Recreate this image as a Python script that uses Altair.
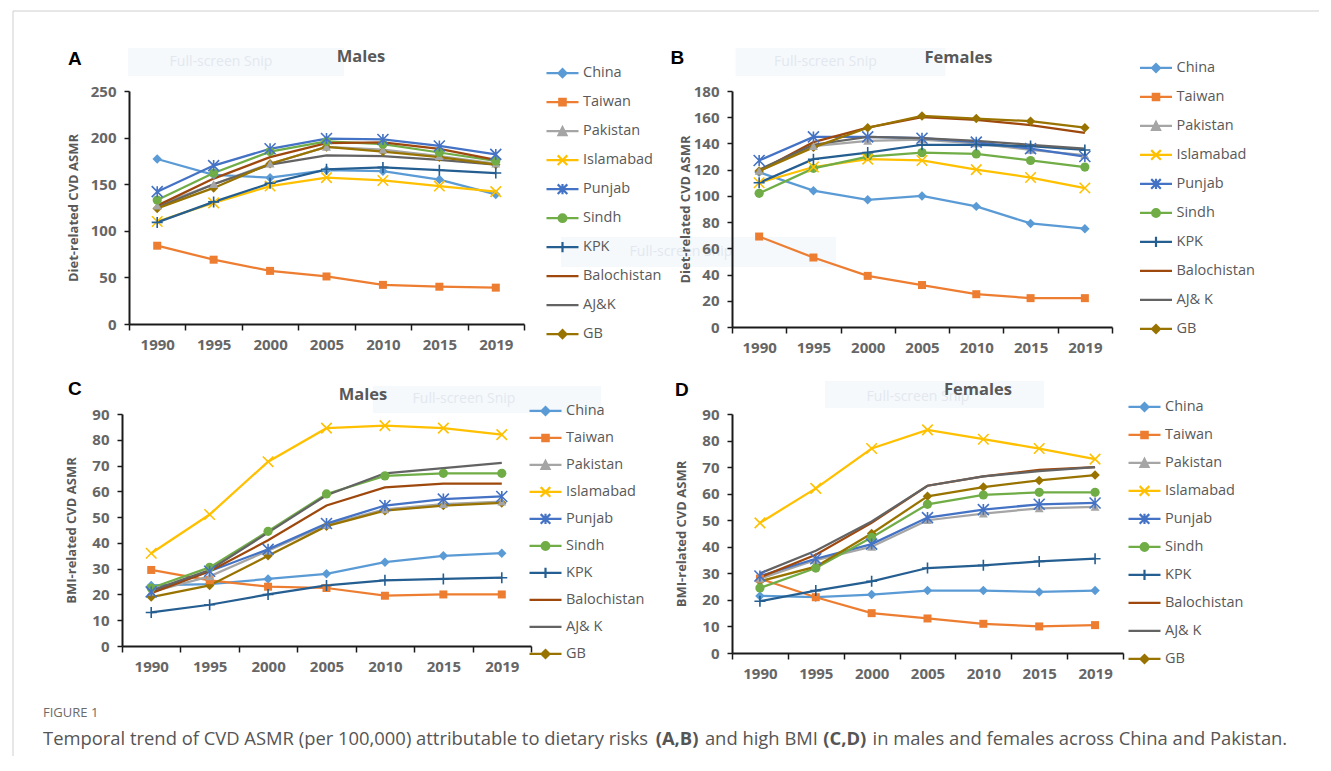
import altair as alt
import pandas as pd

years = ["1990", "1995", "2000", "2005", "2010", "2015", "2019"]
series = ["China", "Taiwan", "Pakistan", "Islamabad", "Punjab", "Sindh", "KPK",
          "Balochistan", "AJ&K", "GB"]
colors = ["#5B9BD5", "#ED7D31", "#A5A5A5", "#FFC000", "#4472C4", "#70AD47",
          "#255E91", "#9E480E", "#636363", "#997300"]

males_diet = {
    "China":       [177, 160, 157, 165, 164, 155, 139],
    "Taiwan":      [84, 69, 57, 51, 42, 40, 39],
    "Pakistan":    [127, 150, 172, 190, 187, 180, 172],
    "Islamabad":   [110, 130, 148, 157, 154, 148, 142],
    "Punjab":      [142, 170, 188, 199, 198, 191, 182],
    "Sindh":       [133, 162, 185, 196, 193, 184, 175],
    "KPK":         [109, 131, 151, 166, 168, 165, 162],
    "Balochistan": [127, 156, 179, 194, 195, 188, 176],
    "AJ&K":        [125, 150, 171, 181, 180, 176, 171],
    "GB":          [124, 146, 172, 190, 185, 179, 171],
}
females_diet = {
    "China":       [118, 104, 97, 100, 92, 79, 75],
    "Taiwan":      [69, 53, 39, 32, 25, 22, 22],
    "Pakistan":    [119, 138, 142, 143, 140, 135, 131],
    "Islamabad":   [110, 122, 128, 127, 120, 114, 106],
    "Punjab":      [127, 145, 145, 144, 141, 136, 130],
    "Sindh":       [102, 121, 130, 133, 132, 127, 122],
    "KPK":         [110, 128, 133, 139, 139, 138, 135],
    "Balochistan": [119, 141, 152, 160, 158, 154, 148],
    "AJ&K":        [120, 139, 145, 144, 142, 139, 136],
    "GB":          [119, 137, 152, 161, 159, 157, 152],
}
males_bmi = {
    "China":       [23.5, 24, 26, 28, 32.5, 35, 36],
    "Taiwan":      [29.5, 25.5, 23, 22.5, 19.5, 20, 20],
    "Pakistan":    [21, 27, 37, 47, 53, 55, 56],
    "Islamabad":   [36, 51, 71.5, 84.5, 85.5, 84.5, 82],
    "Punjab":      [21, 29, 37.5, 47.5, 54.5, 57, 58],
    "Sindh":       [22.5, 30.5, 44.5, 59, 66, 67, 67],
    "KPK":         [13, 16, 20, 23.5, 25.5, 26, 26.5],
    "Balochistan": [20.5, 29, 41, 54.5, 61.5, 63, 63],
    "AJ&K":        [21.5, 29.5, 44, 58.5, 67, 69, 71],
    "GB":          [19, 23.5, 35, 46.5, 52.5, 54.5, 55.5],
}
females_bmi = {
    "China":       [21.5, 21, 22, 23.5, 23.5, 23, 23.5],
    "Taiwan":      [28, 21, 15, 13, 11, 10, 10.5],
    "Pakistan":    [28, 35, 40, 50, 52.5, 54.5, 55],
    "Islamabad":   [49, 62, 77, 84, 80.5, 77, 73],
    "Punjab":      [29, 35.5, 41, 51, 54, 56, 56.5],
    "Sindh":       [24.5, 32, 43.5, 56, 59.5, 60.5, 60.5],
    "KPK":         [19.5, 23.5, 27, 32, 33, 34.5, 35.5],
    "Balochistan": [28.5, 37, 49, 63, 66.5, 69, 70],
    "AJ&K":        [30, 38.5, 49.5, 63, 66.5, 68.5, 70],
    "GB":          [27, 32.5, 45, 59, 62.5, 65, 67],
}

caption_label = "FIGURE 1"
caption_parts = [
    ("Temporal trend of CVD ASMR (per 100,000) attributable to dietary risks", "normal", -79),
    ("(A,B)", "bold", 533.7),
    ("and high BMI", "normal", 582.9),
    ("(C,D)", "bold", 701.3),
    ("in males and females across China and Pakistan.", "normal", 750.5),
]
snip_text = "Full-screen Snip"

FONT = "Open Sans"
GRAY = "#595959"


def long_df(d):
    rows = []
    for s in series:
        for y, v in zip(years, d[s]):
            rows.append({"Year": y, "Series": s, "Value": v})
    return pd.DataFrame(rows)


X_PATH = "M-1,-1L1,1M-1,1L1,-1"
AST_PATH = "M-1,-1L1,1M-1,1L1,-1M0,-1L0,1"
PLUS_PATH = "M-1,0L1,0M0,-1L0,1"


def diamond(h):
    return f"M0,{-h}L{h},0L0,{h}L{-h},0Z"


def square(h):
    return f"M{-h},{-h}L{h},{-h}L{h},{h}L{-h},{h}Z"


def tri(h, k=1.0):
    c = h / 3
    pts = [(0, -h), (h, h), (-h, h)]
    pts = [(k * px, c + k * (py - c)) for px, py in pts]
    return "M" + "L".join(f"{px:.3f},{py:.3f}" for px, py in pts) + "Z"


def circ(r):
    return f"M{-r},0A{r},{r} 0 1,0 {r},0A{r},{r} 0 1,0 {-r},0Z"


LINE = "M-1,0L1,0"
DOT = "M-0.05,0L0.05,0"
legend_paths = [
    LINE + diamond(0.25) + diamond(0.12) + DOT,
    LINE + square(0.2) + square(0.1) + DOT,
    LINE + tri(0.25) + tri(0.25, k=0.45) + "M-0.04,0.09L0.04,0.09",
    LINE + "M-0.3,-0.3L0.3,0.3M-0.3,0.3L0.3,-0.3",
    LINE + "M-0.3,-0.3L0.3,0.3M-0.3,0.3L0.3,-0.3M0,-0.32L0,0.32",
    LINE + circ(0.24) + circ(0.11) + DOT,
    LINE + "M0,-0.32L0,0.32",
    LINE,
    LINE,
    LINE + diamond(0.25) + diamond(0.12) + DOT,
]

marker_specs = [
    (["China", "GB"], "diamond", True, 90),
    (["Taiwan"], "square", True, 64),
    (["Pakistan"], "triangle-up", True, 80),
    (["Sindh"], "circle", True, 85),
    (["Islamabad"], X_PATH, False, 110),
    (["Punjab"], AST_PATH, False, 121),
    (["KPK"], PLUS_PATH, False, 121),
]


def deco_text(txt, x, y, size, color, weight="normal", align="left", font=FONT):
    return alt.Chart(pd.DataFrame({"t": [txt]})).mark_text(
        align=align, baseline="middle", fontSize=size, color=color,
        fontWeight=weight, font=font
    ).encode(x=alt.value(x), y=alt.value(y), text="t:N")


def deco_rect(x1, x2, y1, y2, color="#f6f9fc"):
    return alt.Chart(pd.DataFrame({"t": [0]})).mark_rect(color=color).encode(
        x=alt.value(x1), x2=alt.value(x2), y=alt.value(y1), y2=alt.value(y2))


def panel(d, ytitle, ymax, ystep, w, h, title_txt, title_xy, letter, letter_xy,
          legend_xy, clip_h, label_expr, title_pad, snips, extra=()):
    df = long_df(d)
    cscale = alt.Scale(domain=series, range=colors)
    x_enc = alt.X("Year:O", sort=years, bandPosition=0.5,
                  scale=alt.Scale(type="band", paddingInner=0, paddingOuter=0),
                  axis=alt.Axis(title=None, tickBand="extent", labelAngle=0,
                                labelPadding=7, tickSize=6))
    y_enc = alt.Y("Value:Q", scale=alt.Scale(domain=[0, ymax], nice=False),
                  axis=alt.Axis(title=ytitle, values=list(range(0, ymax + 1, ystep)),
                                tickSize=5, labelPadding=8, titlePadding=title_pad))
    leg = alt.Legend(title=None, orient="none", legendX=legend_xy[0], legendY=legend_xy[1],
                     symbolSize=1024, clipHeight=clip_h, rowPadding=0, labelOffset=3,
                     symbolStrokeWidth=2.2, padding=0, labelExpr=label_expr,
                     labelFont=FONT, labelFontSize=14.5, labelColor=GRAY, symbolOpacity=1)
    base = alt.Chart(df)
    layers = []
    for (x1, x2, y1, y2, tx, ty) in snips:
        layers.append(deco_rect(x1, x2, y1, y2))
        layers.append(deco_text(snip_text, tx, ty, 14, "#e2e8ef", align="center"))
    layers.append(base.mark_line(strokeWidth=2.25).encode(
        x=x_enc, y=y_enc, color=alt.Color("Series:N", scale=cscale, legend=leg)))
    for names, shape, filled, size in marker_specs:
        ch = alt.Fill if filled else alt.Stroke
        layers.append(base.transform_filter(
            alt.FieldOneOfPredicate(field="Series", oneOf=names)
        ).mark_point(shape=shape, filled=filled, size=size, opacity=1,
                     strokeWidth=1.6).encode(
            x=x_enc, y=y_enc, **{("fill" if filled else "stroke"):
                                 ch("Series:N", scale=cscale, legend=None)}))
    # invisible layer that only contributes the marker shapes to the legend
    layers.append(base.transform_filter("false").mark_point(
        filled=False, size=1024, strokeWidth=2.2).encode(
        x=x_enc, y=y_enc,
        shape=alt.Shape("Series:N", scale=alt.Scale(domain=series, range=legend_paths),
                        legend=leg)))
    layers.append(deco_text(title_txt, title_xy[0], title_xy[1], 16.5, GRAY, "bold",
                            align="center"))
    layers.append(deco_text(letter, letter_xy[0], letter_xy[1], 19, "#000000", "bold",
                            font="Liberation Sans"))
    layers.extend(extra)
    return alt.layer(*layers).properties(width=w, height=h)


frame = [
    deco_rect(432, 707, 146, 176),
    deco_text(snip_text, 552, 161, 14, "#e2e8ef", align="center"),
    alt.Chart(pd.DataFrame({"t": [0]})).mark_rule(color="#cfcfcf", strokeWidth=1).encode(
        x=alt.value(-116), y=alt.value(-80), y2=alt.value(665)),
    alt.Chart(pd.DataFrame({"t": [0]})).mark_rule(color="#cfcfcf", strokeWidth=1).encode(
        x=alt.value(-116), x2=alt.value(1190), y=alt.value(-80)),
]

caption = [deco_text(caption_label, -79, 299, 13, "#6b6b6b")] + [
    deco_text(txt, x, 325, 18.4, "#555555", weight=wt) for txt, wt, x in caption_parts
]

expr_a = "datum.label"
expr_b = ("datum.label == 'AJ&K' ? 'AJ& K' : "
          "(datum.label == 'Balochistan' ? '\u00a0Balochistan' : datum.label)")
expr_c = "datum.label == 'AJ&K' ? 'AJ& K' : datum.label"

pA = panel(males_diet, "Diet-related CVD ASMR", 250, 50, 395, 233, "Males", (232, -34),
           "A", (-61, -32), (416, -32), 28.3, expr_a, 10,
           [(-1, 215, -43, -15, 92, -29)], extra=frame)
pB = panel(females_diet, "Diet-related CVD ASMR", 180, 20, 380, 236, "Females", (226.5, -33),
           "B", (-61.5, -33), (406.5, -37.5), 28.9, expr_b, 1,
           [(3.5, 213.5, -43, -15, 93.5, -29)])
pC = panel(males_bmi, "BMI-related CVD ASMR", 90, 10, 409, 232, "Males", (241, -19),
           "C", (-54, -25), (406, -16.5), 26.9, expr_c, 13,
           [(251, 479, -28, -1, 342, -15)], extra=caption)
pD = panel(females_bmi, "BMI-related CVD ASMR", 90, 10, 391, 239, "Females", (246, -24),
           "D", (-57, -24), (395, -20.7), 27.3, expr_b, 13,
           [(93, 312, -33, -6, 186, -17)])

chart = alt.concat(
    pA, pB, pC, pD, columns=2, spacing={"row": 87, "column": 201},
    center={"column": True, "row": False}, bounds="flush"
).resolve_scale(
    color="independent", fill="independent", stroke="independent", shape="independent"
).resolve_legend(
    color="independent", fill="independent", stroke="independent", shape="independent"
).properties(
    padding={"left": 4, "top": 2, "right": 2, "bottom": 2}
).configure_view(stroke=None).configure_axis(
    labelFont=FONT, labelFontWeight="bold", labelFontSize=15, labelColor="#666666",
    titleFont=FONT, titleFontWeight="bold", titleFontSize=13, titleColor=GRAY,
    domainColor="#1a1a1a", domainWidth=2, tickColor="#1a1a1a", tickWidth=1.5,
    grid=False
)

chart.save("out.html", embed_options={"renderer": "svg", "actions": False})
